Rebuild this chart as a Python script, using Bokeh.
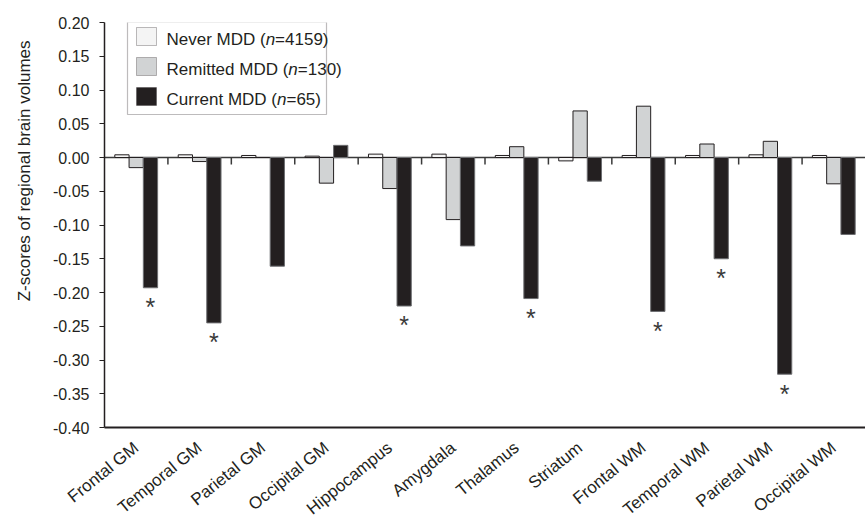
import math
from bokeh.plotting import figure
from bokeh.models import (ColumnDataSource, FactorRange, Range1d, Span, Label, Title,
                          BoxAnnotation, FixedTicker, NumeralTickFormatter)
from bokeh.transform import dodge
from bokeh.core.properties import value
from bokeh.embed import file_html
from bokeh.resources import INLINE

# ---------------- data ----------------
regions = ["Frontal GM", "Temporal GM", "Parietal GM", "Occipital GM", "Hippocampus",
           "Amygdala", "Thalamus", "Striatum", "Frontal WM", "Temporal WM",
           "Parietal WM", "Occipital WM"]
never_mdd = [0.004, 0.004, 0.003, 0.002, 0.005, 0.005, 0.003, -0.005, 0.003, 0.003, 0.004, 0.003]
remitted_mdd = [-0.015, -0.006, 0.0, -0.038, -0.046, -0.092, 0.016, 0.069, 0.076, 0.020, 0.024, -0.039]
current_mdd = [-0.193, -0.245, -0.161, 0.018, -0.220, -0.131, -0.209, -0.035, -0.228, -0.150, -0.321, -0.114]
significant = [True, True, False, False, True, False, True, False, True, True, True, False]
series_names = ["Never MDD", "Remitted MDD", "Current MDD"]
series_n = ["4159", "130", "65"]
y_ticks = [0.20, 0.15, 0.10, 0.05, 0.00, -0.05, -0.10, -0.15, -0.20, -0.25, -0.30, -0.35, -0.40]

# ---------------- style ----------------
FONT = "Liberation Sans"
DARK = "#231f20"
fills = ["#f4f4f4", "#d1d3d4", "#231f20"]
outlines = ["#231f20", "#231f20", "#6d6e71"]
offsets = [-0.225, 0.0, 0.225]
BAR_W = 0.225

W, H = 865, 529
p = figure(width=W, height=H, output_backend="svg", toolbar_location=None,
           x_range=FactorRange(*regions, range_padding=0, factor_padding=0),
           y_range=Range1d(min(y_ticks), max(y_ticks)),
           min_border_left=102, min_border_right=0, min_border_top=22, min_border_bottom=101)
p.outline_line_color = None
p.grid.grid_line_color = None
p.background_fill_color = "white"

src = ColumnDataSource(dict(cat=regions, never=never_mdd, remitted=remitted_mdd,
                            current=current_mdd))

# zero line
p.add_layout(Span(location=0, dimension="width", line_color="#3a3a3a", line_width=1.5,
                  level="underlay"))

cols = ["never", "remitted", "current"]
for col, off, fc, lc in zip(cols, offsets, fills, outlines):
    p.vbar(x=dodge("cat", off, range=p.x_range), top=col, bottom=0, width=BAR_W,
           source=src, fill_color=fc, line_color=lc, line_width=1)

# category separator ticks on zero line (at right edge of each category but the last)
tick_len = 0.0105
sep_src = ColumnDataSource(dict(cat=regions[:-1], y0=[0.0] * (len(regions) - 1),
                                y1=[-tick_len] * (len(regions) - 1)))
p.segment(x0=dodge("cat", 0.5, range=p.x_range), x1=dodge("cat", 0.5, range=p.x_range),
          y0="y0", y1="y1", source=sep_src, line_color="#3a3a3a", line_width=1.5)

# significance asterisks
sig_cats = [c for c, s in zip(regions, significant) if s]
sig_y = [v - 0.008 for v, s in zip(current_mdd, significant) if s]
ssrc = ColumnDataSource(dict(cat=sig_cats, y=sig_y, t=["*"] * len(sig_cats)))
p.text(x=dodge("cat", offsets[2], range=p.x_range), y="y", text="t", source=ssrc,
       text_align="center", text_baseline="top", text_font=value(FONT),
       text_font_size="25px", text_color="#3a3a3a")

# axes
p.yaxis.ticker = FixedTicker(ticks=y_ticks)
p.yaxis.formatter = NumeralTickFormatter(format="0.00")
p.yaxis.major_label_text_font = FONT
p.yaxis.major_label_text_font_size = "16px"
p.yaxis.major_label_text_color = DARK
p.yaxis.axis_line_color = DARK
p.yaxis.axis_line_width = 1.5
p.yaxis.major_tick_line_color = DARK
p.yaxis.major_tick_line_width = 1.2
p.yaxis.major_tick_out = 5
p.yaxis.major_tick_in = 0
p.yaxis.minor_tick_line_color = None
p.yaxis.major_label_standoff = 10

p.xaxis.axis_line_color = DARK
p.xaxis.axis_line_width = 2
p.xaxis.major_tick_line_color = None
p.xaxis.major_tick_out = 0
p.xaxis.major_tick_in = 0
p.xaxis.minor_tick_line_color = None
p.xaxis.major_label_orientation = 0.68
p.xaxis.major_label_text_font = FONT
p.xaxis.major_label_text_font_size = "17px"
p.xaxis.major_label_text_color = DARK
p.xaxis.major_label_standoff = 18

# y-axis title as a left-side Title (allows an offset along the axis)
p.add_layout(Title(text="Z-scores of regional brain volumes", align="right", offset=18,
                   vertical_align="top",
                   text_font=FONT, text_font_size="17px", text_font_style="normal",
                   text_color=DARK, standoff=29), "left")

# legend (manual, to allow italic n) - screen units relative to the frame
p.add_layout(BoxAnnotation(left=23, right=222, bottom=313, top=405.5,
                           left_units="screen", right_units="screen",
                           bottom_units="screen", top_units="screen",
                           fill_color="white", fill_alpha=1, line_color=DARK,
                           line_width=1.2, level="overlay"))
ARIAL = {" ": 278, "(": 333, ")": 333, "=": 584, "N": 722, "e": 556, "v": 500, "r": 333,
         "M": 833, "D": 722, "R": 722, "m": 833, "i": 222, "t": 278, "d": 556, "C": 722,
         "u": 556, "n": 556}
for d in "0123456789":
    ARIAL[d] = 556
LFS = 17

def tw(s):
    return sum(ARIAL.get(ch, 556) for ch in s) * LFS / 1000.0

row_base = [388, 358, 328]
for i, (nm, nn) in enumerate(zip(series_names, series_n)):
    top = row_base[i] + 12
    p.add_layout(BoxAnnotation(left=32, right=52, bottom=top - 18, top=top,
                               left_units="screen", right_units="screen",
                               bottom_units="screen", top_units="screen",
                               fill_color=fills[i], fill_alpha=1, line_color=DARK,
                               line_width=1, level="overlay"))
    x0 = 62
    parts = [(nm + " (", "normal"), ("n", "italic"), ("=" + nn + ")", "normal")]
    for txt, st in parts:
        p.add_layout(Label(x=x0, y=row_base[i], x_units="screen", y_units="screen",
                           text=txt, text_font=FONT, text_font_size=f"{LFS}px",
                           text_font_style=st, text_color=DARK,
                           text_baseline="alphabetic", level="overlay"))
        x0 += tw(txt)

open("out.html", "w").write(file_html(p, INLINE))
